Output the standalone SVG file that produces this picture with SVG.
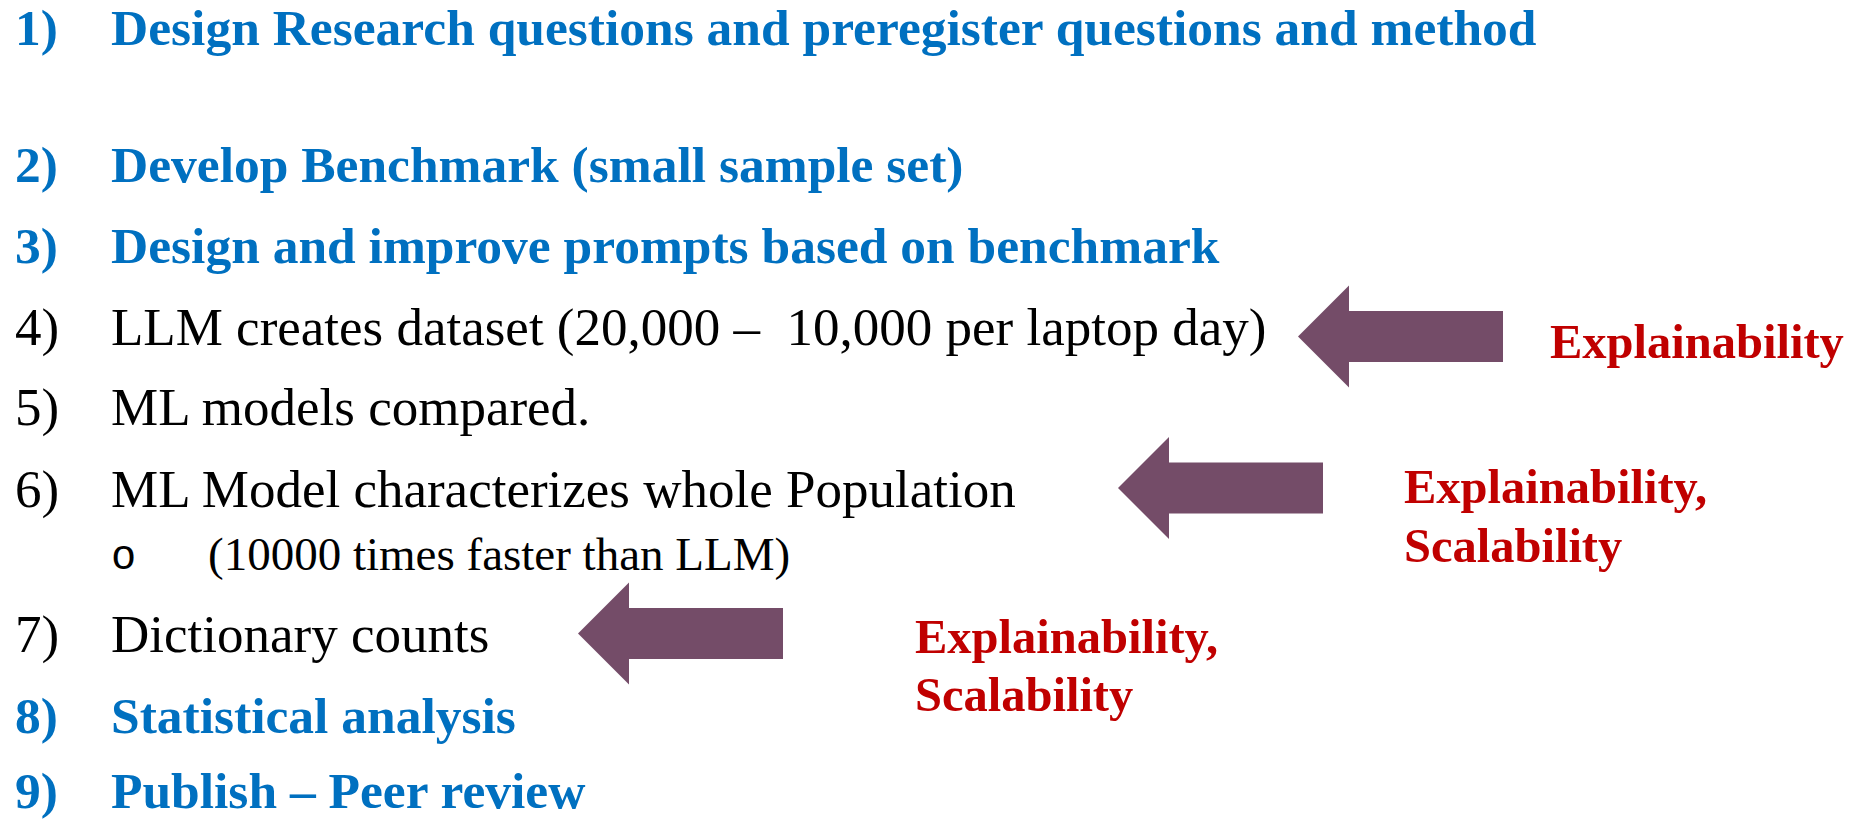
<svg xmlns="http://www.w3.org/2000/svg" xmlns:xlink="http://www.w3.org/1999/xlink" width="1853" height="819" viewBox="0 0 1853 819">
<style>
text{font-family:"Liberation Serif","Times New Roman",serif;}
.blue{fill:#0070C0;font-weight:bold;font-size:51.5px;}
.blk{fill:#000000;font-size:53px;}
.sub{fill:#000000;font-size:47px;}
.bul{fill:#000000;font-size:42px;font-family:"Liberation Mono","Courier New",monospace;}
.red{fill:#C00000;font-weight:bold;font-size:48.5px;}
.arrow{fill:#744C68;}
</style>
<defs>
<path id="larrow" d="M0,0 L51,-51 L51,-25.5 L205,-25.5 L205,25.5 L51,25.5 L51,51 Z"/>
</defs>
<rect width="1853" height="819" fill="#ffffff"/>
<g id="step1"><text class="blue" x="15" y="45">1)</text><text class="blue" x="111" y="45">Design Research questions and preregister questions and method</text></g>
<g id="step2"><text class="blue" x="15" y="182">2)</text><text class="blue" x="111" y="182">Develop Benchmark (small sample set)</text></g>
<g id="step3"><text class="blue" x="15" y="263">3)</text><text class="blue" x="111" y="263">Design and improve prompts based on benchmark</text></g>
<g id="step4"><text class="blk" x="15" y="345">4)</text><text class="blk" x="111" y="345" xml:space="preserve">LLM creates dataset (20,000 –  10,000 per laptop day)</text></g>
<g id="step5"><text class="blk" x="15" y="425">5)</text><text class="blk" x="111" y="425">ML models compared.</text></g>
<g id="step6"><text class="blk" x="15" y="507">6)</text><text class="blk" x="111" y="507">ML Model characterizes whole Population</text>
<text class="bul" x="111" y="569">o</text><text class="sub" x="208" y="570">(10000 times faster than LLM)</text></g>
<g id="step7"><text class="blk" x="15" y="652">7)</text><text class="blk" x="111" y="652">Dictionary counts</text></g>
<g id="step8"><text class="blue" x="15" y="733">8)</text><text class="blue" x="111" y="733">Statistical analysis</text></g>
<g id="step9"><text class="blue" x="15" y="808">9)</text><text class="blue" x="111" y="808">Publish – Peer review</text></g>
<g id="label1"><text class="red" x="1550" y="358">Explainability</text></g>
<g id="label2"><text class="red" x="1404" y="503">Explainability,</text><text class="red" x="1404" y="562">Scalability</text></g>
<g id="label3"><text class="red" x="915" y="653">Explainability,</text><text class="red" x="915" y="711">Scalability</text></g>
<g id="connectors">
<use xlink:href="#larrow" class="arrow" transform="translate(1298,336.5)"/>
<use xlink:href="#larrow" class="arrow" transform="translate(1118,488)"/>
<use xlink:href="#larrow" class="arrow" transform="translate(578,633.5)"/>
</g>
</svg>
